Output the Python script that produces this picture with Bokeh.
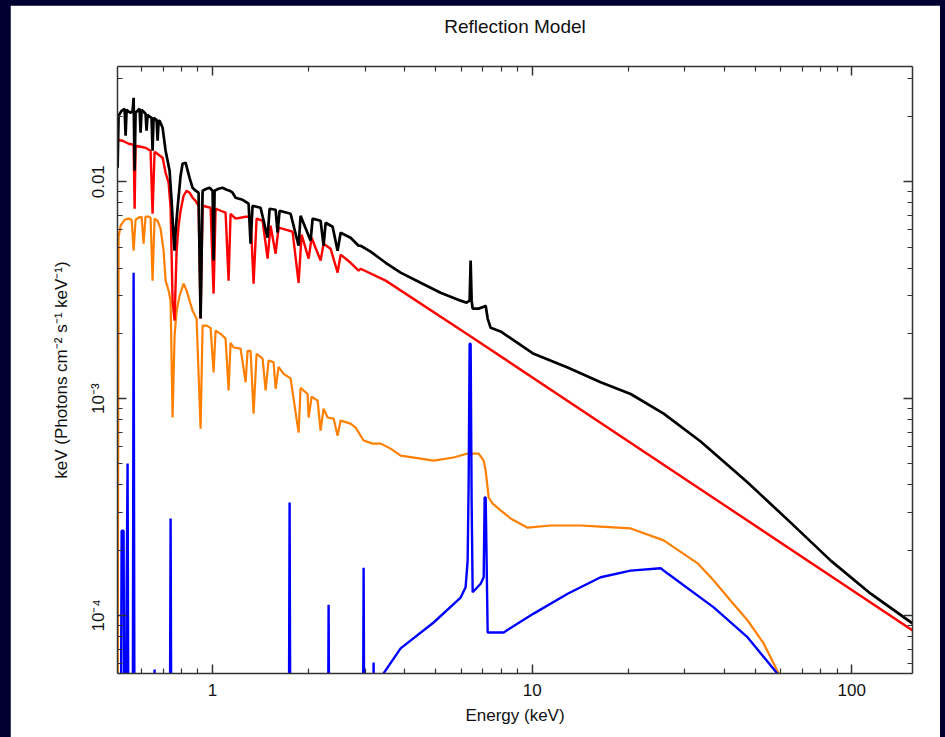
from bokeh.plotting import figure
from bokeh.models import FixedTicker, LogAxis, Range1d
from bokeh.layouts import column
from bokeh.embed import file_html
from bokeh.resources import INLINE

# ---------------- data ----------------
# Total model (black)
total_energy = [
    0.5044, 0.5080, 0.5192, 0.5305, 0.5343, 0.5382, 0.5420, 0.5540, 0.5620, 0.5661,
    0.5702, 0.5741, 0.5909, 0.5952, 0.5996, 0.6038, 0.6170, 0.6215, 0.6259, 0.6305,
    0.6442, 0.6489, 0.6537, 0.6680, 0.6729, 0.6778, 0.6826, 0.6976,
    0.7128, 0.7336, 0.7443, 0.7551, 0.7605, 0.7660, 0.7772, 0.7941, 0.8055, 0.8232,
    0.8472, 0.8658, 0.8847, 0.9040, 0.9172, 0.9305, 0.9576, 0.9786, 1.0000, 1.0072,
    1.0146, 1.0442, 1.0747, 1.1062, 1.1303, 1.1551, 1.1803, 1.2414, 1.2964, 1.3148,
    1.3340, 1.4132, 1.4864, 1.5080, 1.5747, 1.5976, 1.6206, 1.7543, 1.8584, 1.8854,
    2.0265, 2.0559, 2.1777, 2.2253, 2.2579, 2.3748, 2.4618, 2.5157, 2.7035, 2.8642,
    2.9057, 3.1225, 3.4809, 3.8764, 4.477, 5.170, 5.9732, 6.2373, 6.3745, 6.4202,
    6.4663, 6.5144, 6.8031, 7.0522, 7.1552, 7.2588, 7.4161, 7.9690, 10.109, 12.915,
    16.384, 20.339, 25.800, 33.682, 47.271, 64.44, 85.988, 114.7, 155.2,
]
total_flux = [
    0.01160, 0.02014, 0.02124, 0.02170, 0.01629, 0.02147, 0.02124, 0.02080, 0.02124, 0.02438,
    0.01124, 0.02080, 0.02170, 0.01682, 0.02147, 0.02124, 0.02058, 0.01718, 0.02036, 0.02014,
    0.01972, 0.01390, 0.01972, 0.01931, 0.01545, 0.01910, 0.01910, 0.01773,
    0.01390, 0.01124, 0.00817, 0.00552, 0.00481, 0.00594, 0.00759, 0.01066, 0.01211, 0.01224,
    0.01043, 0.00938, 0.00909, 0.00890, 0.00234, 0.00909, 0.00928, 0.00938, 0.00909, 0.00433,
    0.00909, 0.00928, 0.00938, 0.00919, 0.00909, 0.00890, 0.00844, 0.00826, 0.00792, 0.00518,
    0.00775, 0.00759, 0.00552, 0.00751, 0.00743, 0.00582, 0.00735, 0.00712, 0.00507, 0.00697,
    0.00535, 0.00676, 0.00661, 0.00507, 0.00647, 0.00620, 0.00481, 0.00582, 0.00552, 0.00507,
    0.00507, 0.00476, 0.00423, 0.00381, 0.00342, 0.00308, 0.00283, 0.00277, 0.00283, 0.00433,
    0.00283, 0.00260, 0.00260, 0.00265, 0.00268, 0.00234, 0.00212, 0.00204, 0.00161, 0.00139,
    0.00119, 0.00105, 0.000853, 0.000634, 0.000410, 0.000268, 0.000179, 0.000126, 9.18e-5,
]

# Absorbed power law (red)
powerlaw_energy = [
    0.5044, 0.5229, 0.5461, 0.5661, 0.5702, 0.5741, 0.5952, 0.6170, 0.6396, 0.6489,
    0.6584, 0.6778, 0.6976, 0.7128, 0.7284, 0.7389, 0.7496, 0.7605, 0.7715, 0.7827,
    0.7941, 0.8115, 0.8291, 0.8472, 0.8658, 0.8847, 0.9040, 0.9172, 0.9305, 0.9576,
    0.9857, 1.0072, 1.0219, 1.0593, 1.0982, 1.1222, 1.1384, 1.1803, 1.2685, 1.3148,
    1.3437, 1.3730, 1.4338, 1.4864, 1.5188, 1.5747, 1.6091, 1.6926, 1.7798, 1.8584,
    1.8990, 1.9975, 2.0414, 2.1777, 2.2253, 2.3405, 2.4618, 2.5157, 2.7035, 2.8642,
    2.9057, 3.4809, 6.3745, 155.2,
]
powerlaw_flux = [
    0.01561, 0.01545, 0.01497, 0.01481, 0.00751, 0.01465, 0.01450, 0.01434, 0.01390, 0.00712,
    0.01374, 0.01332, 0.01290, 0.01100, 0.00989, 0.00759, 0.00283, 0.00229, 0.00481, 0.00627,
    0.00735, 0.00862, 0.00909, 0.00890, 0.00844, 0.00817, 0.00775, 0.00234, 0.00775, 0.00767,
    0.00759, 0.00305, 0.00751, 0.00735, 0.00720, 0.00350, 0.00712, 0.00676, 0.00690, 0.00690,
    0.00339, 0.00676, 0.00661, 0.00442, 0.00627, 0.00466, 0.00614, 0.00601, 0.00588, 0.00342,
    0.00570, 0.00442, 0.00552, 0.00433, 0.00518, 0.00491, 0.00381, 0.00461, 0.00423, 0.00389,
    0.00397, 0.00350, 0.00195, 8.53e-5,
]

# Reflection continuum (orange)
reflection_energy = [
    0.5044, 0.5080, 0.5155, 0.5305, 0.5461, 0.5580, 0.5661, 0.5741, 0.5867, 0.5996,
    0.6081, 0.6170, 0.6305, 0.6396, 0.6489, 0.6584, 0.6729, 0.6876, 0.7026, 0.7128,
    0.7284, 0.7389, 0.7496, 0.7605, 0.7715, 0.7884, 0.8115, 0.8291, 0.8472, 0.8658,
    0.8910, 0.9172, 0.9305, 0.9576, 0.9857, 1.0072, 1.0219, 1.0593, 1.0982, 1.1222,
    1.1384, 1.1633, 1.2236, 1.2685, 1.2869, 1.3148, 1.3437, 1.3730, 1.4338, 1.4652,
    1.4972, 1.5521, 1.5747, 1.6091, 1.6684, 1.7543, 1.8584, 1.8854, 1.9830, 1.9975,
    2.0414, 2.1313, 2.1777, 2.2253, 2.2904, 2.3918, 2.4618, 2.5157, 2.7035, 2.8030,
    2.9693, 3.1681, 3.3574, 3.6067, 3.8764, 4.477, 4.9172, 5.6793, 6.2825, 6.8031,
    7.0522, 7.1552, 7.3109, 7.5244, 7.9690, 8.5630, 9.6808, 11.427, 14.186, 16.384,
    20.339, 25.800, 32.961, 36.999, 41.816, 47.271, 53.038, 59.952,
]
reflection_flux = [
    3.0e-5, 0.00558, 0.00627, 0.00668, 0.00676, 0.00668, 0.00481, 0.00668, 0.00683, 0.00690,
    0.00518, 0.00690, 0.00690, 0.00683, 0.00350, 0.00676, 0.00661, 0.00607, 0.00481, 0.00350,
    0.00315, 0.00283, 0.000818, 0.00195, 0.00254, 0.00298, 0.00339, 0.00315, 0.00283, 0.00254,
    0.00234, 0.000727, 0.00217, 0.00217, 0.00212, 0.00132, 0.00206, 0.00199, 0.00189, 0.00109,
    0.00181, 0.00172, 0.00170, 0.00119, 0.00166, 0.00166, 0.000853, 0.00161, 0.00153, 0.00109,
    0.00150, 0.00147, 0.00111, 0.00140, 0.00130, 0.00124, 0.000697, 0.00112, 0.00105, 0.000818,
    0.00102, 0.000979, 0.000712, 0.000899, 0.000818, 0.000809, 0.000675, 0.000792, 0.000767, 0.000735,
    0.000641, 0.000620, 0.000620, 0.000588, 0.000546, 0.000529, 0.000518, 0.000535, 0.000558, 0.000558,
    0.000518, 0.000466, 0.000350, 0.000328, 0.000305, 0.000280, 0.000254, 0.000260, 0.000260, 0.000257,
    0.000252, 0.000222, 0.000174, 0.000145, 0.000117, 9.48e-5, 7.43e-5, 5.17e-5,
]

# Emission lines + line continuum (blue); 1e-5 lies below the plotted range
lines_energy = [
    0.5044, 0.5155, 0.5192, 0.5266, 0.5305, 0.5343, 0.5382, 0.5420, 0.5461, 0.5620,
    0.5661, 0.5702, 0.6537, 0.6584, 0.6632, 0.7336, 0.7389, 0.7443, 1.7295, 1.7418,
    1.7543, 2.2904, 2.3073, 2.3238, 2.9480, 2.9693, 2.9907, 3.1681, 3.1910, 3.2137,
    3.3076, 3.3574, 3.8764, 4.9172, 5.9732, 6.1925, 6.2825, 6.3290, 6.3745, 6.4202,
    6.4663, 6.5144, 6.9011, 7.0522, 7.1026, 7.1552, 7.2588, 8.1434, 10.109, 12.915,
    16.384, 20.339, 25.248, 26.553, 36.999, 47.271, 59.952,
]
lines_flux = [
    1e-5, 1e-5, 0.000246, 0.000246, 1e-5, 1e-5, 0.000128, 0.000502, 1e-5, 1e-5,
    0.00381, 1e-5, 1e-5, 5.64e-5, 1e-5, 1e-5, 0.000280, 1e-5, 1e-5, 0.000332,
    1e-5, 1e-5, 0.000112, 1e-5, 1e-5, 0.000166, 1e-5, 1e-5, 6.07e-5, 1e-5,
    1e-5, 5.17e-5, 7.05e-5, 9.28e-5, 0.000121, 0.000135, 0.000179, 0.000406, 0.00179, 0.00179,
    0.000339, 0.000128, 0.000140, 0.000150, 0.000350, 0.000350, 8.35e-5, 8.35e-5, 0.000102, 0.000126,
    0.000150, 0.000161, 0.000165, 0.000156, 0.000109, 7.92e-5, 5.17e-5,
]

# Axis ticks
x_major_ticks = [1, 10, 100]
x_minor_ticks = [0.5, 0.6, 0.7, 0.8, 0.9, 2, 3, 4, 5, 6, 7, 8, 9,
                 20, 30, 40, 50, 60, 70, 80, 90]
y_major_ticks = [1e-4, 1e-3, 1e-2]
y_minor_ticks = [6e-5, 7e-5, 8e-5, 9e-5,
                 2e-4, 3e-4, 4e-4, 5e-4, 6e-4, 7e-4, 8e-4, 9e-4,
                 2e-3, 3e-3, 4e-3, 5e-3, 6e-3, 7e-3, 8e-3, 9e-3,
                 2e-2, 3e-2]
y_tick_labels = {1e-2: "0.01", 1e-3: "10\u207b\u00b3", 1e-4: "10\u207b\u2074"}
x_tick_labels = {1: "1", 10: "10", 100: "100"}
title_text = "Reflection Model"

# ---------------- figure ----------------
FONT = "Liberation Sans"

p = figure(width=930, height=732, x_axis_type="log", y_axis_type="log",
           x_range=Range1d(0.504, 155), y_range=Range1d(5.4e-5, 0.034),
           output_backend="svg", toolbar_location=None, title_location=None,
           min_border_left=107, min_border_right=28,
           min_border_top=61, min_border_bottom=64,
           background_fill_color="white", border_fill_color="white")
p.outline_line_color = None
p.xgrid.visible = False
p.ygrid.visible = False


def style_axis(ax, major, minor, show_labels):
    ax.ticker = FixedTicker(ticks=major, minor_ticks=minor)
    ax.axis_line_color = "#333333"
    ax.axis_line_width = 1.5
    ax.major_tick_in = 9
    ax.major_tick_out = 0
    ax.minor_tick_in = 5
    ax.minor_tick_out = 0
    ax.major_tick_line_color = "#333333"
    ax.major_tick_line_width = 1.5
    ax.minor_tick_line_color = "#333333"
    ax.minor_tick_line_width = 1.2
    ax.axis_label_text_font = FONT
    ax.axis_label_text_font_size = "17px"
    ax.axis_label_text_font_style = "normal"
    ax.axis_label_text_color = "#111111"
    if show_labels:
        ax.major_label_text_font = FONT
        ax.major_label_text_font_size = "17px"
        ax.major_label_text_color = "#111111"
    else:
        ax.major_label_text_color = None


xb = p.xaxis[0]
style_axis(xb, x_major_ticks, x_minor_ticks, True)
xb.major_label_overrides = x_tick_labels
xb.axis_label = "Energy (keV)"
xb.major_label_standoff = 10
xb.axis_label_standoff = 7

yl = p.yaxis[0]
style_axis(yl, y_major_ticks, y_minor_ticks, True)
yl.major_label_overrides = y_tick_labels
yl.major_label_orientation = "parallel"
yl.axis_label = "keV (Photons cm\u207b\u00b2 s\u207b\u00b9 keV\u207b\u00b9)"
yl.major_label_standoff = 9
yl.axis_label_standoff = 16

# top axis: ticks only, carries the chart title as its label
xt = LogAxis()
style_axis(xt, x_major_ticks, x_minor_ticks, False)
xt.axis_label = title_text
xt.axis_label_text_font_size = "19px"
xt.major_label_standoff = 0
xt.axis_label_standoff = 30
p.add_layout(xt, "above")

yr = LogAxis()
style_axis(yr, y_major_ticks, y_minor_ticks, False)
p.add_layout(yr, "right")

p.line(reflection_energy, reflection_flux, line_color="#ff7f00", line_width=2.2)
p.line(lines_energy, lines_flux, line_color="#0000ff", line_width=2.4)
p.line(powerlaw_energy, powerlaw_flux, line_color="#ff0000", line_width=2.4)
p.line(total_energy, total_flux, line_color="#000000", line_width=2.7)

layout = column(p, styles={"background-color": "#000030",
                           "padding": "5px 5px 0px 10px"})

open("out.html", "w").write(file_html(layout, INLINE))
